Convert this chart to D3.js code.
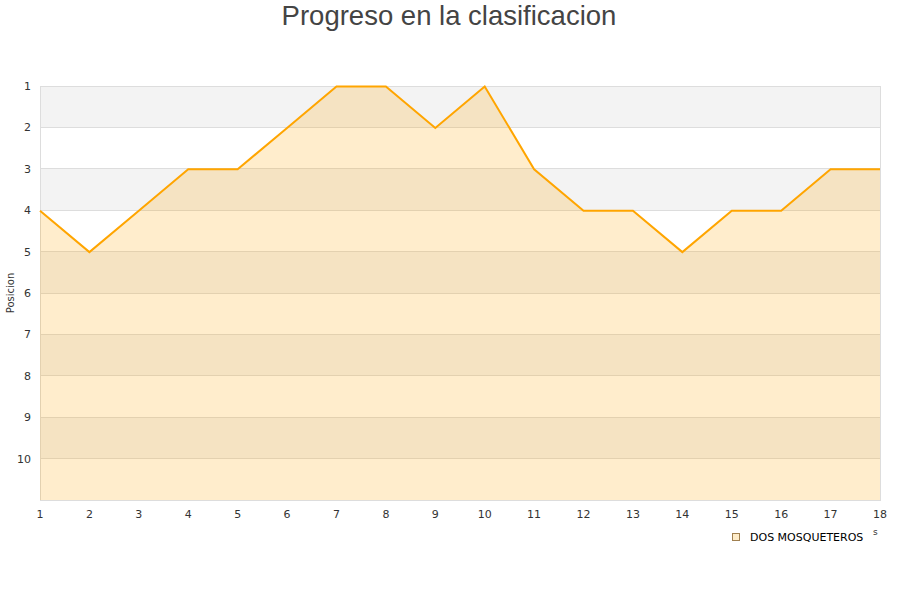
<!DOCTYPE html>
<html><head><meta charset="utf-8">
<script src="https://cdn.jsdelivr.net/npm/d3@7"></script>
<style>body{margin:0;background:#fff}</style>
</head><body>
<svg id="c" width="900" height="600"></svg>
<script>
const jornadas = [1,2,3,4,5,6,7,8,9,10,11,12,13,14,15,16,17,18];
const posiciones = [4,5,4,3,3,2,1,1,2,1,3,4,4,5,4,4,3,3];
const yTicks = [1,2,3,4,5,6,7,8,9,10];
const seriesName = "DOS MOSQUETEROS";
const title = "Progreso en la clasificacion";
const yTitle = "Posicion";

const svg = d3.select("#c");
const L=40, R=880, T=86, B=500;
const x = d3.scaleLinear().domain([1,18]).range([L,R]);
const y = d3.scaleLinear().domain([1,11]).range([T,B]);

const bands = d3.range(1,11);
svg.selectAll("rect.band").data(bands).enter().append("rect")
  .attr("x",L).attr("width",R-L)
  .attr("y",d=>y(d)).attr("height",d=>y(d+1)-y(d))
  .attr("fill",(d,i)=> i%2===0 ? "#f3f3f3" : "#ffffff");

svg.selectAll("line.grid").data(yTicks.slice(1)).enter().append("line")
  .attr("x1",L).attr("x2",R).attr("y1",d=>y(d)).attr("y2",d=>y(d))
  .attr("stroke","#dddddd").attr("stroke-width",1).attr("shape-rendering","crispEdges");

svg.append("rect").attr("x",L).attr("y",T).attr("width",R-L).attr("height",B-T)
  .attr("fill","none").attr("stroke","#dddddd").attr("shape-rendering","crispEdges");

const data = jornadas.map((j,i)=>({j,p:posiciones[i]}));
const area = d3.area().x(d=>x(d.j)).y0(B).y1(d=>y(d.p));
svg.append("path").datum(data).attr("d",area).attr("fill","#ffa500").attr("fill-opacity",0.2);
const line = d3.line().x(d=>x(d.j)).y(d=>y(d.p)+0.5);
svg.append("path").datum(data).attr("d",line).attr("fill","none").attr("stroke","#ffa500").attr("stroke-width",2);

svg.selectAll("text.yl").data(yTicks).enter().append("text")
  .attr("x",31).attr("y",d=>y(d)+4).attr("text-anchor","end")
  .attr("font-family","DejaVu Sans").attr("font-size",11).attr("fill","#333")
  .text(d=>d);
svg.selectAll("text.xl").data(jornadas).enter().append("text")
  .attr("x",d=>x(d)).attr("y",518).attr("text-anchor","middle")
  .attr("font-family","DejaVu Sans").attr("font-size",11).attr("fill","#333")
  .text(d=>d);

svg.append("text").attr("transform","translate(14,293) rotate(-90)")
  .attr("text-anchor","middle").attr("font-family","DejaVu Sans").attr("font-size",10).attr("fill","#333")
  .text(yTitle);

svg.append("text").attr("x",449).attr("y",25).attr("text-anchor","middle")
  .attr("font-family","Liberation Sans").attr("font-size",27.5).attr("fill","#444")
  .text(title);

svg.append("rect").attr("x",732.5).attr("y",533.5).attr("width",7).attr("height",7)
  .attr("fill","#feecc9").attr("stroke","#a08050").attr("stroke-width",1);
svg.append("text").attr("x",750).attr("y",541).attr("font-family","DejaVu Sans").attr("font-size",11).attr("fill","#000")
  .text(seriesName);
svg.append("text").attr("x",873).attr("y",535).attr("font-family","DejaVu Sans").attr("font-size",9).attr("fill","#333")
  .text("s");
</script>
</body></html>
